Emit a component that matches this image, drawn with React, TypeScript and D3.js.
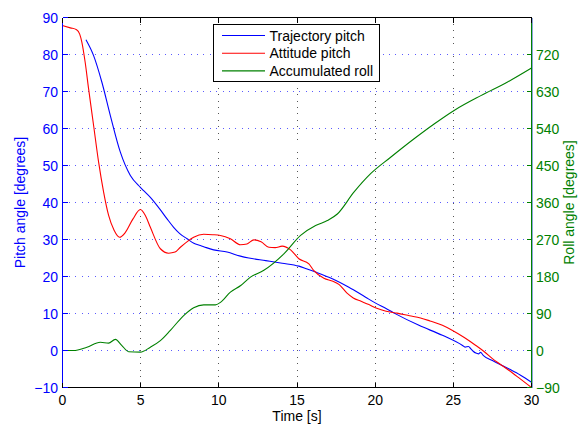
import * as d3 from 'd3';
import React, { useEffect, useRef } from 'react';

// values
const xTicks = [0, 5, 10, 15, 20, 25, 30];
const leftTicks = [-10, 0, 10, 20, 30, 40, 50, 60, 70, 80, 90];
const rightTicks = [-90, 0, 90, 180, 270, 360, 450, 540, 630, 720];

const trajT = [1.5, 1.99, 2.52, 3.06, 3.7, 4.34, 4.98, 5.19, 5.62, 6.3, 6.7, 7.11, 7.5, 7.97, 8.4, 8.82, 9.2, 9.67, 10.53, 11.38, 11.92, 13.0, 14.05, 15.12, 15.6, 16.19, 17.26, 18.32, 19.39, 20.03, 20.67, 21.31, 22.8, 24.3, 25.59, 25.75, 25.97, 26.12, 26.27, 26.44, 26.61, 26.74, 26.91, 27.5, 28.57, 29.3, 30];
const trajPitch = [84.0, 79.7, 72.5, 63.5, 53.6, 47.3, 44.1, 43.2, 41.4, 37.8, 35.5, 33.3, 31.6, 30.2, 29.0, 28.4, 27.8, 27.2, 26.6, 25.5, 25.0, 24.3, 23.6, 22.8, 22.1, 21.2, 19.4, 17.1, 14.4, 12.8, 11.4, 9.9, 6.8, 4.1, 1.35, 0.9, 1.1, 0.45, -0.2, -0.7, -0.9, -0.5, -1.3, -2.7, -5.0, -6.7, -8.6];

const attT = [0, 0.5, 0.9, 1.1, 1.24, 1.45, 1.67, 1.99, 2.31, 2.63, 2.95, 3.3, 3.65, 4.0, 4.5, 4.98, 5.3, 5.62, 6.26, 6.79, 7.2, 7.54, 8.0, 8.39, 9.03, 9.6, 10.1, 10.74, 11.38, 11.8, 12.24, 12.7, 13.2, 13.6, 14.05, 14.59, 15.12, 15.76, 16.08, 16.72, 17.3, 17.7, 18.2, 18.6, 19.1, 19.6, 20.1, 20.7, 21.4, 22.2, 22.9, 23.5, 24.3, 24.95, 25.7, 26.44, 27.0, 27.5, 28.0, 28.57, 29.2, 30];
const attPitch = [87.8, 87.2, 86.7, 85.5, 83.3, 77.9, 70.7, 60.8, 50.9, 42.8, 36.5, 32.5, 30.6, 31.8, 35.5, 38.1, 36.5, 33.3, 27.5, 26.3, 26.6, 27.9, 29.5, 30.6, 31.4, 31.3, 31.1, 30.2, 28.6, 28.8, 29.9, 29.4, 27.9, 27.8, 28.2, 27.2, 24.8, 23.4, 21.6, 19.5, 18.7, 17.8, 15.5, 14.2, 13.3, 12.4, 11.4, 10.6, 10.1, 9.4, 8.8, 8.0, 6.8, 5.4, 3.5, 1.35, -0.4, -2.2, -3.7, -5.4, -7.4, -10];

const rollT = [0, 0.7, 1.56, 2.42, 2.95, 3.38, 3.8, 4.23, 4.98, 5.62, 6.26, 6.9, 7.75, 8.39, 9.03, 9.78, 10.1, 10.74, 11.4, 12.0, 12.88, 14.16, 15.23, 16.19, 16.94, 17.58, 18.64, 19.71, 20.99, 22.49, 23.77, 25.05, 26.76, 28.47, 30];
const rollAngle = [0, 0, 8, 20, 18, 27, 12, -3, -4, 8, 24, 49, 85, 104, 111, 111, 117, 142, 158, 178, 195, 235, 280, 304, 316, 332, 385, 430, 470, 515, 551, 584, 620, 653, 687];

const legendNames = ['Trajectory pitch', 'Attitude pitch', 'Accumulated roll'];
const colors = ['#0000ff', '#ff0000', '#008000'];

const W = 578;
const H = 426;
const FONT = '"Liberation Sans", Arial, Helvetica, sans-serif';

function App() {
    const ref = useRef<SVGSVGElement>(null);

    useEffect(() => {
        const svg = d3.select(ref.current);
        svg.selectAll('*').remove();

        const x = d3.scaleLinear().domain([0, 30]).range([62.5, 531.5]);
        const yL = d3.scaleLinear().domain([-10, 90]).range([387.5, 17.5]);
        const yR = d3.scaleLinear().domain([-90, 810]).range([387.5, 17.5]);

        svg.append('rect').attr('width', W).attr('height', H).attr('fill', '#fff');

        // grid
        const grid = svg.append('g').attr('shape-rendering', 'crispEdges');
        grid.selectAll('line.v')
            .data(xTicks.slice(1, -1))
            .enter().append('line')
            .attr('x1', d => x(d)).attr('x2', d => x(d))
            .attr('y1', yL(90)).attr('y2', yL(-10))
            .attr('stroke', '#555').attr('stroke-dasharray', '1 5.4');
        grid.selectAll('line.h')
            .data(leftTicks.slice(1, -1))
            .enter().append('line')
            .attr('x1', x(0)).attr('x2', x(30))
            .attr('y1', d => yL(d)).attr('y2', d => yL(d))
            .attr('stroke', '#5a5aff').attr('stroke-dasharray', '1 5.4');

        // data lines
        const series = [
            { t: trajT, v: trajPitch, y: yL },
            { t: attT, v: attPitch, y: yL },
            { t: rollT, v: rollAngle, y: yR },
        ];
        series.forEach((s, i) => {
            const line = d3.line<number>()
                .x((_, k) => x(s.t[k]))
                .y(d => s.y(d))
                .curve(d3.curveMonotoneX);
            svg.append('path')
                .attr('d', line(s.v))
                .attr('fill', 'none')
                .attr('stroke', colors[i])
                .attr('stroke-width', 1.1);
        });

        // box
        const box = svg.append('g').attr('shape-rendering', 'crispEdges');
        box.append('line').attr('x1', x(0)).attr('x2', x(30)).attr('y1', yL(90)).attr('y2', yL(90)).attr('stroke', '#000');
        box.append('line').attr('x1', x(0)).attr('x2', x(30)).attr('y1', yL(-10)).attr('y2', yL(-10)).attr('stroke', '#000');
        box.append('line').attr('x1', x(0)).attr('x2', x(0)).attr('y1', yL(90)).attr('y2', yL(-10)).attr('stroke', colors[0]);
        box.append('line').attr('x1', x(30) + 1).attr('x2', x(30) + 1).attr('y1', yL(90)).attr('y2', yL(-10)).attr('stroke', '#8aa4d8');
        box.append('line').attr('x1', x(30)).attr('x2', x(30)).attr('y1', yL(90)).attr('y2', yL(-10)).attr('stroke', colors[2]);

        // ticks
        const tl = 5;
        xTicks.forEach(d => {
            box.append('line').attr('x1', x(d)).attr('x2', x(d)).attr('y1', yL(-10)).attr('y2', yL(-10) - tl).attr('stroke', '#000');
            box.append('line').attr('x1', x(d)).attr('x2', x(d)).attr('y1', yL(90)).attr('y2', yL(90) + tl).attr('stroke', '#000');
        });
        leftTicks.forEach(d => {
            box.append('line').attr('x1', x(0)).attr('x2', x(0) + tl).attr('y1', yL(d)).attr('y2', yL(d)).attr('stroke', colors[0]);
        });
        rightTicks.forEach(d => {
            box.append('line').attr('x1', x(30)).attr('x2', x(30) - tl).attr('y1', yR(d)).attr('y2', yR(d)).attr('stroke', colors[2]);
        });

        // tick labels
        const fmt = (d: number) => (d < 0 ? '\u2212' + Math.abs(d) : String(d));
        svg.append('g').selectAll('text')
            .data(xTicks).enter().append('text')
            .attr('x', d => x(d)).attr('y', 405)
            .attr('text-anchor', 'middle')
            .style('font', `14px ${FONT}`)
            .attr('fill', '#000')
            .text(d => d);
        svg.append('g').selectAll('text')
            .data(leftTicks).enter().append('text')
            .attr('x', 58).attr('y', d => yL(d) + 5)
            .attr('text-anchor', 'end')
            .style('font', `14px ${FONT}`)
            .attr('fill', colors[0])
            .text(d => fmt(d));
        svg.append('g').selectAll('text')
            .data(rightTicks).enter().append('text')
            .attr('x', 536).attr('y', d => yR(d) + 5)
            .attr('text-anchor', 'start')
            .style('font', `14px ${FONT}`)
            .attr('fill', colors[2])
            .text(d => fmt(d));

        // axis labels
        svg.append('text')
            .attr('x', (x(0) + x(30)) / 2).attr('y', 421)
            .attr('text-anchor', 'middle')
            .style('font', `14px ${FONT}`)
            .text('Time [s]');
        svg.append('text')
            .attr('transform', `translate(25,${(yL(90) + yL(-10)) / 2}) rotate(-90)`)
            .attr('text-anchor', 'middle')
            .style('font', `14px ${FONT}`)
            .attr('fill', colors[0])
            .text('Pitch angle [degrees]');
        svg.append('text')
            .attr('transform', `translate(574,${(yL(90) + yL(-10)) / 2}) rotate(-90)`)
            .attr('text-anchor', 'middle')
            .style('font', `14px ${FONT}`)
            .attr('fill', colors[2])
            .text('Roll angle [degrees]');

        // legend
        const lg = svg.append('g');
        lg.append('rect')
            .attr('x', 213.5).attr('y', 24.5).attr('width', 166).attr('height', 57)
            .attr('fill', '#fff').attr('stroke', '#000').attr('shape-rendering', 'crispEdges');
        legendNames.forEach((name, i) => {
            const cy = 35.5 + i * 17.7;
            lg.append('line')
                .attr('x1', 222).attr('x2', 265).attr('y1', cy).attr('y2', cy)
                .attr('stroke', colors[i]).attr('stroke-width', 1.1);
            lg.append('text')
                .attr('x', 269.5).attr('y', cy + 5)
                .style('font', `14px ${FONT}`)
                .attr('fill', '#000')
                .text(name);
        });
    }, []);

    return (
        <div style={{ position: 'absolute', left: 0, top: 0 }}>
            <svg ref={ref} width={W} height={H} style={{ display: 'block' }}></svg>
        </div>
    );
}

export default App;
